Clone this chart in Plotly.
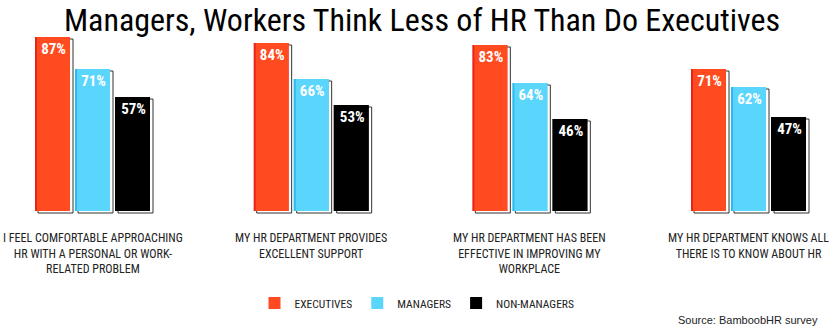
import plotly.graph_objects as go

categories = [
    "I FEEL COMFORTABLE APPROACHING<br>HR WITH A PERSONAL OR WORK-<br>RELATED PROBLEM",
    "MY HR DEPARTMENT PROVIDES<br>EXCELLENT SUPPORT",
    "MY HR DEPARTMENT HAS BEEN<br>EFFECTIVE IN IMPROVING MY<br>WORKPLACE",
    "MY HR DEPARTMENT KNOWS ALL<br>THERE IS TO KNOW ABOUT HR",
]
series_names = ["EXECUTIVES", "MANAGERS", "NON-MANAGERS"]
executives = [87, 84, 83, 71]
managers = [71, 66, 64, 62]
non_managers = [57, 53, 46, 47]
series_values = [executives, managers, non_managers]
colors = ["#FF4B1F", "#5AD5FC", "#000000"]
edge_colors = ["#E8231A", "#2DB8EE", "#000000"]

W, H = 834, 332
GROUP_PX = 218.67
PX = 1.0 / GROUP_PX
LEFT_CENTER = 92.5
x_lo = -LEFT_CENTER * PX
x_hi = (W - LEFT_CENTER) * PX

COND = "Roboto Condensed, DejaVu Sans Condensed, sans-serif"

fig = go.Figure()
idx = list(range(len(categories)))
for k, (name, vals) in enumerate(zip(series_names, series_values)):
    off = (k - 1) * 40 * PX
    # shadow outline
    fig.add_trace(go.Bar(
        x=[i + off + 3 * PX for i in idx], y=vals, base=-1,
        width=35 * PX, marker=dict(color="white", line=dict(color="#333", width=1)),
        showlegend=False, hoverinfo="skip"))
    # darker edge
    fig.add_trace(go.Bar(
        x=[i + off for i in idx], y=vals, width=35 * PX,
        marker=dict(color=edge_colors[k], line=dict(width=0)),
        showlegend=False, hoverinfo="skip"))
    # main bar
    fig.add_trace(go.Bar(
        x=[i + off + 1 * PX for i in idx], y=vals, width=33 * PX, name=name,
        marker=dict(color=colors[k], line=dict(width=0)),
        text=[f"{v}%" for v in vals], textposition="inside", insidetextanchor="end",
        textangle=0,
        textfont=dict(family=COND, size=15, color="white", weight="bold"),
        constraintext="none"))

for i, cat in enumerate(categories):
    fig.add_annotation(x=i, y=(215 - 229) / 204, xref="x", yref="paper",
                       text=cat, showarrow=False, yanchor="top", xanchor="center",
                       align="center",
                       font=dict(family=COND, size=12, color="#222"))

fig.add_annotation(x=820 / W, xref="paper", y=(215 - 320) / 204, yref="paper",
                   xanchor="right", yanchor="middle", showarrow=False,
                   text="Source: BamboobHR survey",
                   font=dict(family="Liberation Sans, Arial, sans-serif", size=11, color="#222"))

fig.update_layout(
    width=W, height=H,
    margin=dict(l=0, r=0, t=11, b=117),
    paper_bgcolor="white", plot_bgcolor="white",
    barmode="overlay",
    title=dict(text="Managers, Workers Think Less of HR Than Do Executives",
               x=422 / W, xanchor="center", y=1 - 20 / H, yanchor="middle",
               xref="paper", yref="container",
               font=dict(family=COND, size=32, color="#000")),
    xaxis=dict(range=[x_lo, x_hi], visible=False, fixedrange=True),
    yaxis=dict(range=[-2, 100], visible=False, fixedrange=True),
    legend=dict(orientation="h", x=0.5, xanchor="center", y=-(303 - 215) / 204, yanchor="middle",
                font=dict(family=COND, size=11.5, color="#222"), traceorder="normal",
                itemwidth=30, entrywidthmode="pixels"),
    showlegend=True,
)

fig.write_html("out.html")
